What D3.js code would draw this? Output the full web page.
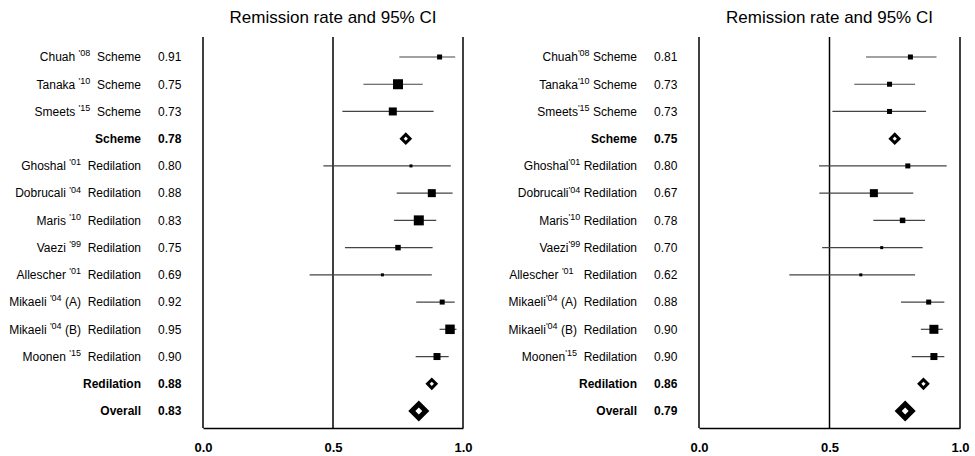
<!DOCTYPE html>
<html>
<head>
<meta charset="utf-8">
<script src="https://cdn.jsdelivr.net/npm/d3@7"></script>
<style>
  html, body { margin: 0; padding: 0; background: #fff; }
  svg { display: block; font-family: "Liberation Sans", Arial, sans-serif; }
  text { white-space: pre; }
</style>
</head>
<body>
<svg id="chart" width="975" height="456"></svg>
<script>
// Rows, top to bottom: individual studies, the two subgroup summaries and the overall summary
const authors = ["Chuah", "Tanaka", "Smeets", "", "Ghoshal", "Dobrucali", "Maris", "Vaezi",
                 "Allescher", "Mikaeli", "Mikaeli", "Moonen", "", ""];
const years   = ["'08", "'10", "'15", "", "'01", "'04", "'10", "'99", "'01", "'04", "'04", "'15", "", ""];
const arms    = ["", "", "", "", "", "", "", "", "", " (A)", " (B)", "", "", ""];
const groups  = ["Scheme", "Scheme", "Scheme", "Scheme", "Redilation", "Redilation", "Redilation",
                 "Redilation", "Redilation", "Redilation", "Redilation", "Redilation", "Redilation", "Overall"];
const isSummary = [false, false, false, true, false, false, false, false, false, false, false, false, true, true];
const tickValues = [0, 0.5, 1];
const title = "Remission rate and 95% CI";

// Left forest plot: remission rate, 95% CI limits and study weight
const rateA  = [0.91, 0.75, 0.73, 0.78, 0.80, 0.88, 0.83, 0.75, 0.69, 0.92, 0.95, 0.90, 0.88, 0.83];
const lowerA = [0.755, 0.617, 0.536, null, 0.463, 0.745, 0.735, 0.546, 0.41, 0.82, 0.91, 0.818, null, null];
const upperA = [0.97, 0.845, 0.887, null, 0.953, 0.96, 0.897, 0.883, 0.88, 0.968, 0.975, 0.945, null, null];
const weightA = [25, 100, 64, null, 9, 64, 100, 30, 9, 25, 90, 49, null, null];

// Right forest plot
const rateB  = [0.81, 0.73, 0.73, 0.75, 0.80, 0.67, 0.78, 0.70, 0.62, 0.88, 0.90, 0.90, 0.86, 0.79];
const lowerB = [0.64, 0.595, 0.511, null, 0.46, 0.461, 0.668, 0.472, 0.346, 0.774, 0.85, 0.815, null, null];
const upperB = [0.91, 0.828, 0.87, null, 0.949, 0.821, 0.866, 0.857, 0.828, 0.94, 0.934, 0.94, null, null];
const weightB = [25, 25, 25, null, 25, 64, 30, 9, 9, 25, 81, 49, null, null];

const svg = d3.select("#chart");
const fmt = d3.format(".2f");
const rowIdx = d3.range(authors.length);

const y = d3.scalePoint().domain(rowIdx).range([57, 411]);
const side = d3.scaleSqrt().domain([0, 100]).range([0, 10]);
const plotTop = 37, plotBottom = 428;

function drawPanel(opt) {
  const g = svg.append("g");
  const x = d3.scaleLinear().domain([0, 1]).range([opt.x0, opt.x1]);

  // title
  g.append("text")
    .attr("x", x(0.5)).attr("y", 23)
    .attr("text-anchor", "middle")
    .attr("font-size", 17)
    .text(title);

  // row labels
  const rows = rowIdx.map(i => ({
    i, author: authors[i], year: years[i], arm: arms[i], group: groups[i],
    summary: isSummary[i], rate: opt.rate[i], lo: opt.lower[i], hi: opt.upper[i], w: opt.weight[i]
  }));

  const lab = g.selectAll("text.lab").data(rows).join("text")
    .attr("class", "lab")
    .attr("x", opt.labelEnd)
    .attr("y", d => y(d.i))
    .attr("dy", "0.36em")
    .attr("text-anchor", "end")
    .attr("font-size", 12);
  lab.each(function (d) {
    const t = d3.select(this);
    if (d.summary) {
      t.append("tspan").attr("font-weight", "bold").text(d.group);
      return;
    }
    t.append("tspan").text(d.author + opt.beforeYear(d));
    t.append("tspan").attr("font-size", 9).attr("dy", "-0.55em").text(d.year);
    t.append("tspan").attr("dy", "0.41em").text(d.arm + opt.afterYear(d));
    t.append("tspan").text(d.group);
  });

  // rate column
  g.selectAll("text.val").data(rows).join("text")
    .attr("class", "val")
    .attr("x", opt.valueX)
    .attr("y", d => y(d.i))
    .attr("dy", "0.36em")
    .attr("font-size", 12)
    .attr("font-weight", d => d.summary ? "bold" : null)
    .text(d => fmt(d.rate));

  // frame: left edge, reference line at 0.5, right edge and baseline
  g.selectAll("line.frame").data(tickValues).join("line")
    .attr("class", "frame")
    .attr("x1", d => x(d)).attr("x2", d => x(d))
    .attr("y1", plotTop).attr("y2", plotBottom)
    .attr("stroke", "#000").attr("stroke-width", 1.5);

  const axis = d3.axisBottom(x).tickValues(tickValues).tickSize(0).tickPadding(15)
    .tickFormat(d3.format(".1f"));
  const ax = g.append("g").attr("transform", `translate(0,${plotBottom})`).call(axis);
  ax.select(".domain").attr("stroke", "#000").attr("stroke-width", 1.5);
  ax.selectAll("text").attr("font-size", 13).attr("font-weight", "bold")
    .attr("font-family", "'Liberation Sans', Arial, sans-serif").attr("fill", "#000");

  const studies = rows.filter(d => !d.summary);
  // confidence intervals
  g.selectAll("line.ci").data(studies).join("line")
    .attr("class", "ci")
    .attr("x1", d => x(d.lo)).attr("x2", d => x(d.hi))
    .attr("y1", d => y(d.i)).attr("y2", d => y(d.i))
    .attr("stroke", "#444").attr("stroke-width", 1.2);
  // point estimates sized by weight
  g.selectAll("rect.pt").data(studies).join("rect")
    .attr("class", "pt")
    .attr("x", d => x(d.rate) - side(d.w) / 2)
    .attr("y", d => y(d.i) - side(d.w) / 2)
    .attr("width", d => side(d.w))
    .attr("height", d => side(d.w))
    .attr("fill", "#000");

  // pooled estimates as open diamonds
  const pooled = rows.filter(d => d.summary);
  g.selectAll("path.pool").data(pooled).join("path")
    .attr("class", "pool")
    .attr("d", d => d3.symbol(d3.symbolSquare, d.group === "Overall" ? 98 : 36)())
    .attr("transform", d => `translate(${x(d.rate)},${y(d.i)}) rotate(45)`)
    .attr("fill", "#fff")
    .attr("stroke", "#000")
    .attr("stroke-width", d => d.group === "Overall" ? 5 : 3);
}

drawPanel({
  x0: 203, x1: 463, labelEnd: 141, valueX: 158,
  rate: rateA, lower: lowerA, upper: upperA, weight: weightA,
  beforeYear: () => " ", afterYear: () => "  "
});

drawPanel({
  x0: 699, x1: 960, labelEnd: 637, valueX: 654,
  rate: rateB, lower: lowerB, upper: upperB, weight: weightB,
  beforeYear: d => (d.author === "Allescher" ? " " : ""),
  afterYear: d => (d.author === "Allescher" ? "   " : (d.arm || d.author === "Moonen") ? "  " : " ")
});
</script>
</body>
</html>
